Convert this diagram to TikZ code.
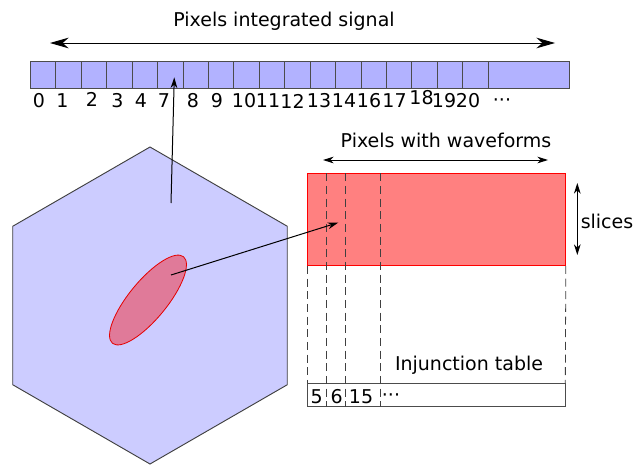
\documentclass[tikz,border=0pt]{standalone}
\usepackage{fontspec}
\setmainfont{DejaVu Sans}
\usetikzlibrary{shapes.geometric,arrows.meta,positioning,calc}

\begin{document}
\begin{tikzpicture}[
    x=0.75pt, y=-0.75pt,
    font=\fontsize{14.25}{17}\selectfont,
    pixcell/.style={draw=black!70, fill=blue!30, line width=0.6pt, anchor=north west, inner sep=0pt, minimum width=19.07pt, minimum height=20.25pt},
    hexcam/.style={draw=black!75, fill=blue!20, line width=0.7pt, regular polygon, regular polygon sides=6, regular polygon rotate=30, inner sep=0pt, minimum size=237.75pt},
    spot/.style={ellipse, draw=red!90!black, fill=red, fill opacity=0.4, line width=0.6pt, inner sep=0pt, minimum width=84pt, minimum height=28.5pt},
    wavebox/.style={draw=red, fill=red!50, line width=0.6pt, anchor=north west, inner sep=0pt, minimum width=193.3pt, minimum height=68.8pt},
    tablebox/.style={draw=black!70, fill=white, line width=0.6pt, anchor=north west, inner sep=0pt, minimum width=192.9pt, minimum height=16.8pt},
    cut/.style={draw=black!75, line width=0.6pt, dash pattern=on 6pt off 3.5pt},
    lbl/.style={inner sep=0pt},
    arrow/.style={line width=0.75pt, >={Stealth[length=8pt, width=5pt, inset=2.5pt]}},
    bigarrow/.style={line width=0.75pt, >={Stealth[length=14pt, width=8pt, inset=4.5pt]}}
]
    \useasboundingbox (0,0) rectangle (634,464);

    % camera and the spot of light
    \node[hexcam] (camera) at (150,305.5) {};
    \node[spot, rotate=50.6] (shower) at (148,300) {};

    % integrated signal of all pixels
    \node[lbl] (sigtitle) at (284,20.8) {Pixels integrated signal};
    \coordinate (sigleft) at (50,43);
    \coordinate (sigright) at (555,43);
    \draw[bigarrow, <->] (sigleft) -- (sigright);

    \foreach \i in {0,...,17}
        \node[pixcell] (pix\i) at (30+25.43*\i,60.7) {};
    \node[pixcell, minimum width=61.2pt] (pixrest) at (487.7,60.7) {};

    \foreach \x/\lab/\y [count=\k] in {39/0/101, 62.5/1/101, 92/2/99, 117.5/3/101, 141/4/101, 164/7/101,
            193/8/101, 217/9/101, 244/10/101, 268/11/101, 292.5/12/101, 319/13/101, 344/14/101,
            369/16/101, 394.5/17/101, 421.5/18/98, 444/19/101, 468/20/101}
        \node[lbl] (num\k) at (\x,\y) {\lab};
    \node[lbl] (numrest) at (502,102.5) {···};

    % pixels with waveforms
    \node[lbl] (wavetitle) at (446,140) {Pixels with waveforms};
    \coordinate (waveleft) at (323,160);
    \coordinate (waveright) at (548,160);
    \draw[arrow, <->] (waveleft) -- (waveright);

    \node[wavebox] (wave) at (307.3,173.3) {};
    \coordinate (slicetop) at (577.3,183);
    \coordinate (slicebot) at (577.3,255);
    \draw[arrow, <->] (slicetop) -- (slicebot);
    \node[lbl] (slicelab) at (607,221.5) {slices};

    % injunction table
    \node[lbl] (tabletitle) at (469,365) {Injunction table};
    \node[tablebox] (injtable) at (307.3,383.3) {};

    \draw[cut] (wave.south west) -- (injtable.north west);
    \draw[cut] (wave.south east) -- (injtable.north east);
    \foreach \dx in {18.7,37.7,72.7}
        \draw[cut] ($(wave.north west)+(\dx,0)$) -- ($(injtable.south west)+(\dx,0)$);

    \node[lbl] (idx5) at (316.7,396.5) {5};
    \node[lbl] (idx6) at (336.7,396.5) {6};
    \node[lbl] (idx15) at (361,396.5) {15};
    \node[lbl] (idxrest) at (391,397.5) {···};

    % pointers
    \coordinate (hexpt) at ($(camera.center)+(21,-102.5)$);
    \draw[arrow, ->] (hexpt) -- ($(pix5.center)+(4,2.8)$);
    \draw[arrow, ->] ($(shower.center)+(23,-25)$) -- ($(wave.west)+(31,3)$);
\end{tikzpicture}
\end{document}
